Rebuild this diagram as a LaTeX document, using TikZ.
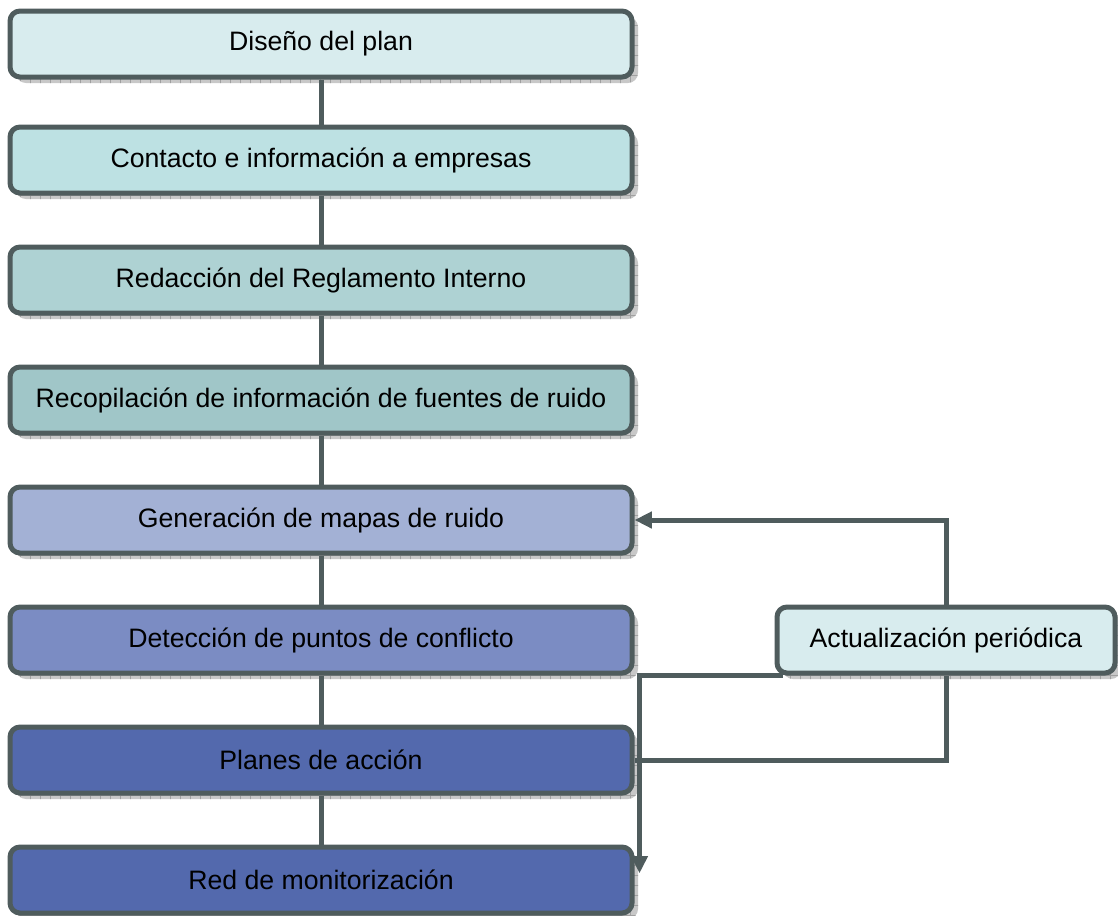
\documentclass[tikz,border=0pt]{standalone}
\usepackage{fontspec}
\setmainfont{Liberation Sans}
\usetikzlibrary{arrows.meta,shadows,patterns.meta}
\definecolor{edge}{HTML}{4F5C5D}
\definecolor{cA}{HTML}{D8ECEE}
\definecolor{cB}{HTML}{BDE1E3}
\definecolor{cC}{HTML}{AED2D3}
\definecolor{cD}{HTML}{A0C6C8}
\definecolor{cE}{HTML}{A3B1D5}
\definecolor{cF}{HTML}{7B8CC3}
\definecolor{cG}{HTML}{5369AD}
\definecolor{shad}{HTML}{C8C8C8}
\definecolor{shadline}{HTML}{A0A0A0}
\tikzset{
  stagebox/.style={draw=edge, line width=3.75pt, rounded corners=7.5pt,
    minimum width=466.5pt, minimum height=49.5pt, inner sep=0pt,
    font=\fontsize{20pt}{24pt}\selectfont, text=black,
    general shadow={shadow xshift=4.5pt, shadow yshift=-4.5pt, fill=shad},
    general shadow={shadow xshift=4.5pt, shadow yshift=-4.5pt,
      pattern={Hatch[distance=7.5pt, angle=0, line width=0.6pt]}, pattern color=shadline}},
  sidebox/.style={stagebox, minimum width=253.5pt},
  conn/.style={draw=edge, line width=3.75pt},
  tip/.style={-{Triangle[length=13pt, width=12pt]}}
}
\begin{document}
\begin{tikzpicture}[x=0.75pt, y=-0.75pt]
\useasboundingbox (0,0) rectangle (1118,915);
\node[stagebox, fill=cA] (b1) at (321,44)  {Diseño del plan};
\node[stagebox, fill=cB] (b2) at (321,160) {Contacto e información a empresas};
\node[stagebox, fill=cC] (b3) at (321,280) {Redacción del Reglamento Interno};
\node[stagebox, fill=cD] (b4) at (321,400) {Recopilación de información de fuentes de ruido};
\node[stagebox, fill=cE] (b5) at (321,520) {Generación de mapas de ruido};
\node[stagebox, fill=cF] (b6) at (321,640) {Detección de puntos de conflicto};
\node[stagebox, fill=cG] (b7) at (321,760) {Planes de acción};
\node[stagebox, fill=cG] (b8) at (321,880) {Red de monitorización};
\node[sidebox, fill=cA] (act) at (946,640) {Actualización periódica};
\draw[conn] (b1) -- (b2);
\draw[conn] (b2) -- (b3);
\draw[conn] (b3) -- (b4);
\draw[conn] (b4) -- (b5);
\draw[conn] (b5) -- (b6);
\draw[conn] (b6) -- (b7);
\draw[conn] (b7) -- (b8);
\draw[conn, tip] (act.north) |- (b5.east);
\draw[conn] (b7.east) -| (act.south);
\draw[conn, tip] ([xshift=6pt]act.south west) -| ([xshift=3.75pt, yshift=5pt]b8.east);
\end{tikzpicture}
\end{document}
